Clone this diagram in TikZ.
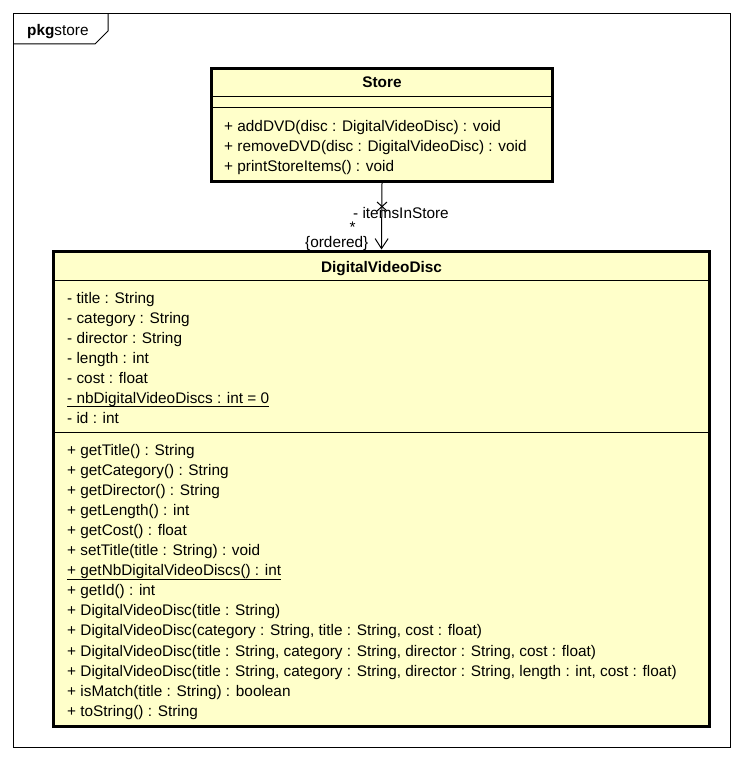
\documentclass[tikz,border=0pt]{standalone}
\usepackage{fontspec}
\setmainfont{Liberation Sans}
\usetikzlibrary{arrows.meta,calc}
\definecolor{classfill}{RGB}{255,255,202}
\newcommand\umltext{\fontsize{15.35}{18}\selectfont}
\tikzset{
  classbox/.style={draw=black, line width=3pt, fill=classfill, inner sep=0pt},
  member/.style={anchor=base west, inner sep=0pt, font=\umltext},
  title/.style={anchor=base, inner sep=0pt, font=\umltext\bfseries},
  rolelabel/.style={inner sep=0pt, font=\umltext},
  sep/.style={line width=1pt},
  assoc/.style={line width=1pt, -{Straight Barb[length=10pt,width=13pt,line width=1pt]}}
}
\begin{document}
\begin{tikzpicture}[x=1pt,y=-1pt]
\useasboundingbox (0,0) rectangle (744,762);

% package frame with its name tab
\draw[line width=1pt] (13.5,13.5) rectangle (730.5,747.5);
\draw[line width=1pt] (13.5,44) -- (95,44) -- (108,31) -- (108,13.5);
\node[anchor=base west, inner sep=0pt, font=\umltext] (pkgname) at (27,36) {\textbf{pkg}store};

% class Store
\node[classbox, minimum width=341pt, minimum height=113pt] (store) at (382,125) {};
\draw[sep] (store.west |- 0,97) -- (store.east |- 0,97);
\draw[sep] (store.west |- 0,108) -- (store.east |- 0,108);
\node[title] (storename) at (382,88) {Store};
\node[member] (s1) at (224,131.5) {+ addDVD(disc : DigitalVideoDisc) : void};
\node[member] (s2) at (224,151.5) {+ removeDVD(disc : DigitalVideoDisc) : void};
\node[member] (s3) at (224,171.5) {+ printStoreItems() : void};

% class DigitalVideoDisc
\node[classbox, minimum width=656pt, minimum height=475.5pt] (dvd) at (381.5,488.75) {};
\draw[sep] (dvd.west |- 0,280.5) -- (dvd.east |- 0,280.5);
\draw[sep] (dvd.west |- 0,432.5) -- (dvd.east |- 0,432.5);
\node[title] (dvdname) at (381.5,272.5) {DigitalVideoDisc};

\node[member] (a1) at (67,303) {- title : String};
\node[member] (a2) at (67,323) {- category : String};
\node[member] (a3) at (67,343) {- director : String};
\node[member] (a4) at (67,363.2) {- length : int};
\node[member] (a5) at (67,383.2) {- cost : float};
\node[member] (a6) at (67,403.3) {- nbDigitalVideoDiscs : int = 0};
\node[member] (a7) at (67,423.3) {- id : int};
\draw[line width=1pt] ([yshift=-3.5pt]a6.base west) -- ([yshift=-3.5pt]a6.base east);

\node[member] (m1)  at (67,455)   {+ getTitle() : String};
\node[member] (m2)  at (67,475.1) {+ getCategory() : String};
\node[member] (m3)  at (67,495.2) {+ getDirector() : String};
\node[member] (m4)  at (67,515.3) {+ getLength() : int};
\node[member] (m5)  at (67,535.4) {+ getCost() : float};
\node[member] (m6)  at (67,555.5) {+ setTitle(title : String) : void};
\node[member] (m7)  at (67,575.6) {+ getNbDigitalVideoDiscs() : int};
\node[member] (m8)  at (67,595.7) {+ getId() : int};
\node[member] (m9)  at (67,615.8) {+ DigitalVideoDisc(title : String)};
\node[member] (m10) at (67,635.9) {+ DigitalVideoDisc(category : String, title : String, cost : float)};
\node[member] (m11) at (67,656)   {+ DigitalVideoDisc(title : String, category : String, director : String, cost : float)};
\node[member] (m12) at (67,676.1) {+ DigitalVideoDisc(title : String, category : String, director : String, length : int, cost : float)};
\node[member] (m13) at (67,696.2) {+ isMatch(title : String) : boolean};
\node[member] (m14) at (67,716.3) {+ toString() : String};
\draw[line width=1pt] ([yshift=-3.5pt]m7.base west) -- ([yshift=-3.5pt]m7.base east);

% association Store -> DigitalVideoDisc
\draw[assoc] (store.south) -- (dvd.north);
\coordinate (ownx) at ($(store.south)+(0,23.5)$);
\draw[line width=1pt] ($(ownx)+(-5,-4.5)$) -- ($(ownx)+(5,4.5)$);
\draw[line width=1pt] ($(ownx)+(-5,4.5)$) -- ($(ownx)+(5,-4.5)$);
\node[rolelabel, anchor=base west] (role) at (353,218.5) {- itemsInStore};
\node[rolelabel, anchor=base] (mult) at (352.5,232.5) {*};
\node[rolelabel, anchor=base west] (ord) at (305,247) {\{ordered\}};
\end{tikzpicture}
\end{document}
